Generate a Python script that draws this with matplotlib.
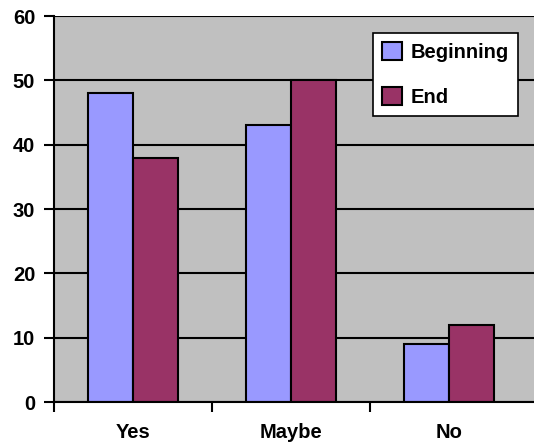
import numpy as np
import matplotlib
matplotlib.use('Agg')
import matplotlib.pyplot as plt

# --- Data ---
categories = ['Yes', 'Maybe', 'No']
beginning = [48, 43, 9]
end = [38, 50, 12]
y_ticks = [0, 10, 20, 30, 40, 50, 60]

plt.rcParams['font.family'] = ['Liberation Sans', 'DejaVu Sans']
plt.rcParams['font.weight'] = 'bold'

fig = plt.figure(figsize=(5.34, 4.45), dpi=100)
ax = fig.add_axes([54 / 534, 1 - 402 / 445, 1 - 54 / 534, (402 - 16) / 445])
ax.set_facecolor('#C0C0C0')

x = np.arange(len(categories))
w = 0.285
ax.bar(x - w / 2, beginning, w, color='#9999FF', edgecolor='black', linewidth=1.5,
       label='Beginning', zorder=3)
ax.bar(x + w / 2, end, w, color='#993366', edgecolor='black', linewidth=1.5,
       label='End', zorder=3)

ax.set_ylim(0, 60)
ax.set_xlim(-0.5, 2.5 + 6 / 158)
ax.set_yticks(y_ticks)
ax.set_yticklabels([str(v) for v in y_ticks], fontsize=14.5, fontweight='bold')
ax.yaxis.grid(True, color='black', linewidth=1.5, zorder=1)
ax.set_axisbelow(True)

ax.set_xticks(x)
ax.set_xticklabels(categories, fontsize=14.5, fontweight='bold')
ax.tick_params(axis='x', which='major', length=0, pad=15)
ax.set_xticks([0.5, 1.5, -0.5], minor=True)
ax.tick_params(axis='x', which='minor', length=7.5, width=1.5, direction='out')
ax.tick_params(axis='y', length=7.5, width=1.5, direction='out', pad=6)

for s in ['top', 'right']:
    ax.spines[s].set_visible(False)
for s in ['left', 'bottom']:
    ax.spines[s].set_linewidth(1.5)
    ax.spines[s].set_zorder(4)

leg = ax.legend(loc='upper left', bbox_to_anchor=((373 - 54) / 480, (402 - 33) / 386),
                fontsize=14.5, frameon=True, fancybox=False, edgecolor='black',
                framealpha=1, handlelength=1.0, handleheight=1.0,
                borderpad=0.45, labelspacing=1.25, handletextpad=0.4,
                borderaxespad=0)
leg.get_frame().set_linewidth(1.2)
for t in leg.get_texts():
    t.set_fontweight('bold')

fig.savefig('out.png', dpi=100)
